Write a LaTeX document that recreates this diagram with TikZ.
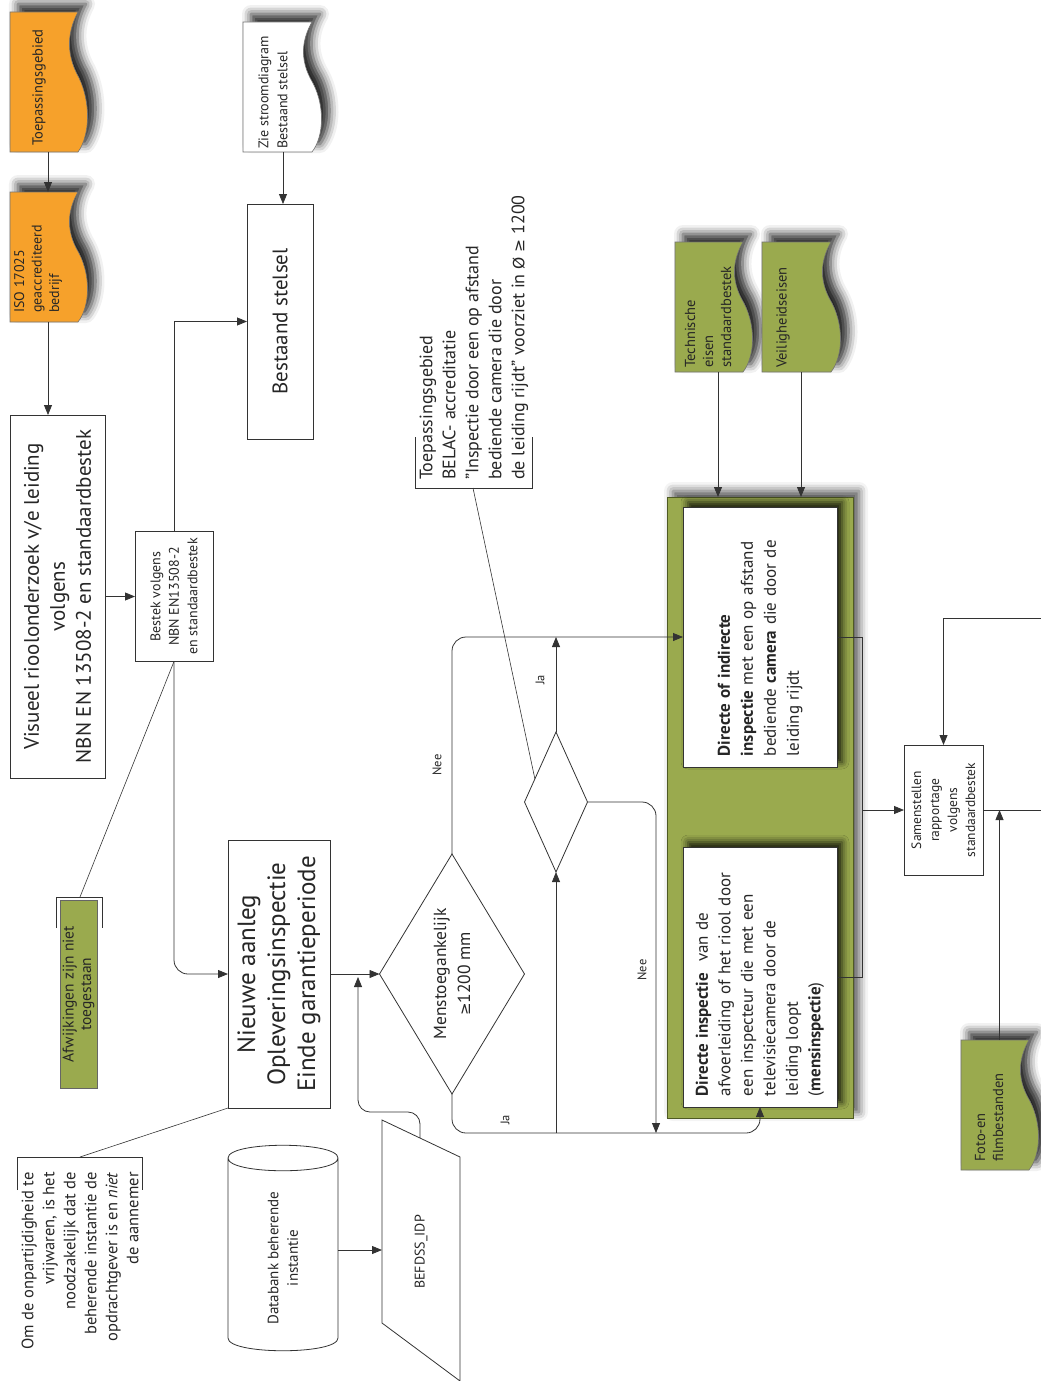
\documentclass[tikz,border=0pt]{standalone}
\usepackage{fontspec}
\setmainfont{PT Sans}
\newfontfamily\symf{DejaVu Sans}
\usetikzlibrary{arrows.meta,shapes.geometric,shadows.blur,calc}
\definecolor{orangedoc}{HTML}{F6A12B}
\definecolor{olive}{HTML}{9AAA4E}
\definecolor{olivedark}{HTML}{4F5A24}
\definecolor{lin}{HTML}{333333}
\newcommand\myfs[2]{\fontsize{#1}{#2}\selectfont}
\tikzset{
  conn/.style={draw=lin, line width=0.8pt},
  arr/.style={conn, -{Triangle[length=10pt,width=8pt]}},
  box/.style={draw=lin, line width=0.8pt, fill=white, inner sep=0pt, outer sep=0pt},
  txt/.style={rotate=90, inner sep=0pt, text=black!85},
  lbl/.style={txt, font=\myfs{12.5}{14}},
  docstyle/.style={draw=black!55, line width=0.6pt, blur shadow={shadow xshift=8pt, shadow yshift=8pt, shadow blur radius=9pt, shadow opacity=85}},
  ghost/.style={inner sep=0pt, outer sep=0pt}
}
\newcommand\mydoc[6]{%
  \path[docstyle, fill=#6] (#2,#3) -- (#4,#3)
    .. controls ({#4-9},{#3+0.12*(#5-#3)}) and ({#4-14},{#3+0.28*(#5-#3)}) .. ({#4+1},{#3+0.47*(#5-#3)})
    .. controls ({#4+13},{#3+0.65*(#5-#3)}) and ({#4+12},{#3+0.88*(#5-#3)}) .. (#4,#5)
    -- (#2,#5) -- cycle;
  \node[ghost, minimum width={#4-#2}, minimum height={#5-#3}] (#1) at ({(#2+#4)/2},{(#3+#5)/2}) {};
}
\begin{document}
\begin{tikzpicture}[x=1pt,y=-1pt]
\useasboundingbox (0,0) rectangle (1041,1381);

% ---------- documents ----------
\mydoc{toep}{10}{12}{78}{152}{orangedoc}
\mydoc{iso}{10}{192}{78}{322}{orangedoc}
\mydoc{zie}{243}{22}{312}{152}{white}
\mydoc{tech}{675}{242}{743}{372}{olive}
\mydoc{veil}{762}{242}{831}{372}{olive}
\mydoc{foto}{961}{1040}{1029}{1170}{olive}

\node[txt, anchor=west, align=left, font=\myfs{14.5}{17}] (toepT) at (39,146) {Toepassingsgebied};
\node[txt, anchor=west, align=left, font=\myfs{14}{17.5}] (isoT) at (38,313) {ISO 17025\\geaccrediteerd\\bedrijf};
\node[txt, anchor=west, align=left, font=\myfs{14}{19}] (zieT) at (273,149) {Zie stroomdiagram\\Bestaand stelsel};
\node[txt, anchor=west, align=left, font=\myfs{14.5}{18}] (techT) at (708,368) {Technische\\eisen\\standaardbestek};
\node[txt, anchor=west, font=\myfs{14.5}{18}] (veilT) at (783,368) {Veiligheidseisen};
\node[txt, anchor=west, align=left, font=\myfs{14.5}{18}] (fotoT) at (989,1162) {Foto-en\\filmbestanden};

% ---------- boxes ----------
\node[box, minimum width=95, minimum height=363] (vis) at (57.5,596.5) {};
\node[txt, font=\myfs{21}{26}, align=center] (visT) at (vis) {Visueel rioolonderzoek v/e leiding\\volgens\\NBN EN 13508-2 en standaardbestek};

\node[box, minimum width=78, minimum height=130] (bestek) at (174,596.5) {};
\node[txt, font=\myfs{14}{18.5}, align=center] (bestekT) at (bestek) {Bestek volgens\\NBN EN13508-2\\en standaardbestek};

\node[box, minimum width=66, minimum height=235] (bestaand) at (280,321.5) {};
\node[txt, font=\myfs{21}{24}] (bestaandT) at (bestaand) {Bestaand stelsel};

\node[box, minimum width=102, minimum height=268] (nieuwe) at (279,974) {};
\node[txt, font=\myfs{25}{30}, align=center] (nieuweT) at (nieuwe) {Nieuwe aanleg\\Opleveringsinspectie\\Einde garantieperiode};

% decisions
\node[diamond, draw=lin, line width=0.8pt, inner sep=0pt, outer sep=0pt, minimum width=145, minimum height=240] (d1) at (452,974) {};
\node[txt, font=\myfs{17.5}{24}, align=center] (d1T) at (d1) {Menstoegankelijk\\{\symf\myfs{15}{24}≥}1200 mm};
\node[diamond, draw=lin, line width=0.8pt, inner sep=0pt, outer sep=0pt, minimum width=63, minimum height=140] (d2) at (556,802) {};

% green container
\node[draw=olivedark, fill=olive, line width=1pt, inner sep=0pt, outer sep=0pt, minimum width=186, minimum height=621,
      blur shadow={shadow xshift=6pt, shadow yshift=6pt, shadow blur radius=9pt, shadow opacity=70}] (green) at (760,807.5) {};
\node[box, draw=black!80, minimum width=154, minimum height=260,
      blur shadow={shadow xshift=5pt, shadow yshift=5pt, shadow blur radius=7pt, shadow opacity=85}] (upper) at (760,637) {};
\node[box, draw=black!80, minimum width=154, minimum height=260,
      blur shadow={shadow xshift=5pt, shadow yshift=5pt, shadow blur radius=7pt, shadow opacity=85}] (lower) at (760,977) {};
\node[txt, font=\myfs{17}{23}, text width=238pt, align=left] (upperT) at (upper)
  {\textbf{Directe of indirecte}\\\textbf{inspectie} met een op afstand\\bediende \textbf{camera} die door de\\leiding rijdt};
\node[txt, font=\myfs{17}{22.5}, text width=238pt, align=left] (lowerT) at (lower)
  {\textbf{Directe inspectie}\ \ van de\\afvoerleiding of het riool door\\een inspecteur die met een\\televisiecamera door de\\leiding loopt\\(\textbf{mensinspectie})};

\node[box, minimum width=79, minimum height=130] (samen) at (943.5,810) {};
\node[txt, font=\myfs{13.5}{18}, align=center] (samenT) at (samen) {Samenstellen\\rapportage\\volgens\\standaardbestek};

% Afwijkingen note
\node[draw=black!60, fill=olive, line width=0.6pt, inner sep=0pt, outer sep=0pt, minimum width=37, minimum height=188] (afw) at (78.5,994) {};
\node[txt, font=\myfs{15.5}{17.5}, align=center] (afwT) at (afw) {Afwijkingen zijn niet\\toegestaan};
\draw[conn, line width=0.6pt] (56,928) -- (56,897) -- (102,897) -- (102,928);
\coordinate (afwTop) at (80,897);

% Om de onpartijdigheid note
\draw[conn, line width=0.6pt] (17,1190) -- (17,1157) -- (142,1157) -- (142,1190);
\coordinate (omTop) at (80,1157);
\node[txt, anchor=east, align=right, font=\myfs{16.5}{21}] (omT) at (80,1172)
  {Om de onpartijdigheid te\\vrijwaren, is het\\noodzakelijk dat de\\beherende instantie de\\opdrachtgever is en \textit{niet}\\de aannemer};

% BELAC note
\draw[conn, line width=0.6pt] (415,437) -- (415,488) -- (532,488) -- (532,437);
\coordinate (belTop) at (473,488);
\node[txt, anchor=west, align=left, font=\myfs{18}{23}] (belT) at (474,480)
  {Toepassingsgebied\\BELAC- accreditatie\\”Inspectie door een op afstand\\bediende camera die door\\de leiding rijdt” voorziet in {\symf\myfs{15.5}{23}Ø ≥} 1200};

% database cylinder
\draw[conn] (228,1158) -- (228,1338) .. controls (228,1355) and (338,1355) .. (338,1338) -- (338,1158)
   .. controls (338,1141) and (228,1141) .. (228,1158) .. controls (228,1175) and (338,1175) .. (338,1158);
\node[ghost, minimum width=110, minimum height=200] (db) at (283,1250) {};
\node[txt, font=\myfs{15}{19.5}, align=center] (dbT) at (283,1258) {Databank beherende\\instantie};

% BEFDSS parallelogram
\draw[conn] (382,1120) -- (460,1157) -- (460,1381) -- (382,1323) -- cycle;
\node[ghost, minimum width=78, minimum height=200] (bef) at (421,1250) {};
\node[txt, font=\myfs{14}{16}] (befT) at (421,1252) {BEFDSS\_IDP};
\coordinate (befTop) at (420,1138);

% ---------- connectors ----------
\draw[arr] ([xshift=4pt]toep.south) -- ([xshift=4pt]iso.north);
\draw[arr] ([xshift=4pt]iso.south) -- ([xshift=4pt]iso.south |- vis.north);
\draw[arr] (vis.east) -- (bestek.west);
\draw[arr] (bestek.north) |- (bestaand.west);
\draw[arr, rounded corners=14pt] (bestek.south) |- (nieuwe.west);
\draw[arr] ([xshift=5.5pt]zie.south) -- ([xshift=5.5pt]zie.south |- bestaand.north);
\draw[arr] (nieuwe.east) -- (d1.west);
\draw[arr, rounded corners=12pt] (befTop) -- (420,1112) -- (358,1112) -- (358,977);

\draw[arr, rounded corners=14pt] (d1.north) |- (upper.west);
\node[lbl] (nee1) at (437,765) {Nee};
\draw[arr] (d2.north) -- (d2.north |- upper.west);
\node[lbl] (ja1) at (540,680) {Ja};
\coordinate (bl) at (452,1133);
\draw[arr, rounded corners=14pt] (d1.south) |- (lower.south |- bl) -- (lower.south);
\node[lbl] (ja2) at (505,1120) {Ja};
\draw[arr] (d2.south |- bl) -- (d2.south);
\coordinate (neeEnd) at (656,1133);
\draw[arr, rounded corners=14pt] (d2.east) -| (neeEnd);
\node[lbl] (nee2) at (642,970) {Nee};

\draw[arr] ([xshift=9pt]tech.south) -- ([xshift=9pt]tech.south |- green.north);
\draw[arr] ([xshift=4.5pt]veil.south) -- ([xshift=4.5pt]veil.south |- green.north);

\coordinate (jn) at (862,810);
\draw[conn] (upper.east) -| (jn);
\draw[conn] (lower.east) -| (jn);
\draw[arr] (jn) -- (samen.west);
\coordinate (inR) at (1041,618);
\draw[arr] (inR) -| (samen.north);
\coordinate (outR) at (1041,810);
\draw[conn] (samen.east) -- (outR);
\draw[arr] ([xshift=4.5pt]foto.north) -- ([xshift=4.5pt]foto.north |- outR);
\draw[arr] (db.east) -- (bef.west);

% annotation leaders
\draw[conn, line width=0.6pt] (afwTop) -- (bestek.south);
\draw[conn, line width=0.6pt] (omTop) -- (nieuwe.south west);
\draw[conn, line width=0.6pt] (belTop) -- ($(d2.west)!0.33!(d2.north)$);
\end{tikzpicture}
\end{document}
